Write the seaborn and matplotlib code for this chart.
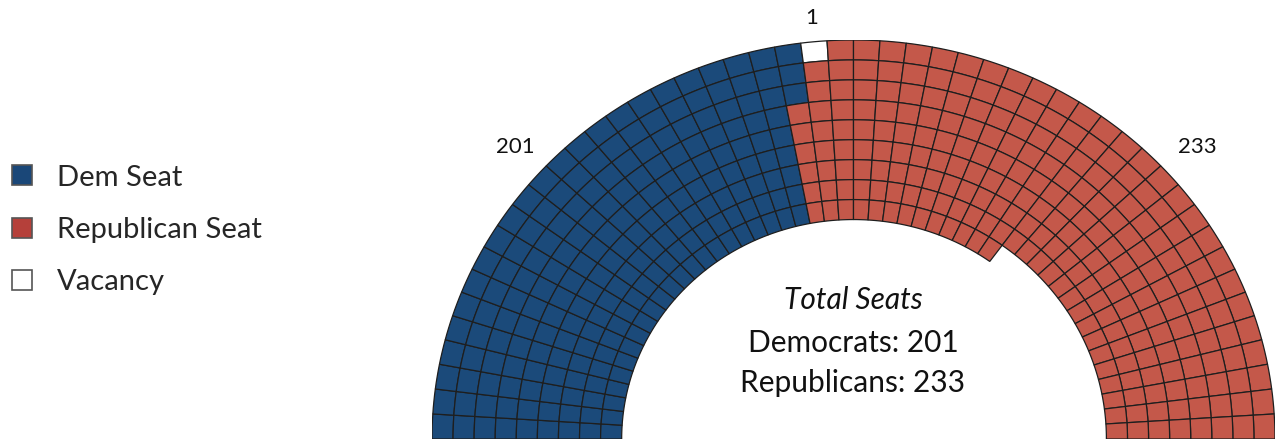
import numpy as np
import matplotlib
matplotlib.use("Agg")
import matplotlib.pyplot as plt
from matplotlib.patches import Wedge, Patch
import seaborn as sns

# Chamber composition
parties = ["Dem Seat", "Republican Seat", "Vacancy"]
seat_counts = [201, 233, 1]
party_colors = ["#1b4a7a", "#c4584a", "#ffffff"]
legend_colors = ["#1a4778", "#b5403a", "#ffffff"]

# Hemicycle layout: columns of equal angle; the right-hand block is one ring shallower
n_rings = 9
cols_deep = 35      # columns with all rings (from the left)
cols_shallow = 15   # columns without the innermost ring (at the right)

sns.set_theme(style="white")
plt.rcParams["font.family"] = ["Lato", "DejaVu Sans"]

W, H = 1278, 441
fig = plt.figure(figsize=(W / 100, H / 100), dpi=100)


def fx(x):
    return x / W


def fy(y):
    return 1 - y / H


ax = fig.add_axes([fx(432), fy(439), fx(1275) - fx(432), fy(40) - fy(439)])
ax.set_xlim(-1, 1)
ax.set_ylim(0, 1)
ax.axis("off")

r_in, r_out = 0.55, 1.0
edges = np.linspace(r_in, r_out, n_rings + 1)
n_cols = cols_deep + cols_shallow
step = 180 / n_cols

# Seats in fill order: left to right by column, outer ring first within a column
seats = []
for c in range(n_cols):
    rings = range(n_rings - 1, -1, -1) if c < cols_deep else range(n_rings - 1, 0, -1)
    for r in rings:
        seats.append((c, r))

n_dem, n_rep, n_vac = seat_counts
owner = {s: 1 for s in seats}
for s in seats[:n_dem]:
    owner[s] = 0
dem_cols = {c for c, _ in seats[:n_dem]}
first_free = max(dem_cols) + 1
for k in range(n_vac):
    owner[(first_free + k, n_rings - 1)] = 2

for (c, r), p in owner.items():
    t2 = 180 - c * step
    t1 = t2 - step
    ax.add_patch(Wedge((0, 0), edges[r + 1], t1, t2,
                       width=edges[r + 1] - edges[r],
                       facecolor=party_colors[p],
                       edgecolor="#1e1e1e", linewidth=0.9))

# Seat count labels
label_kw = dict(ha="center", va="center", fontsize=16, color="#111111")
fig.text(fx(812), fy(18), f"{n_vac}", **label_kw)
fig.text(fx(515), fy(147), f"{n_dem}", **label_kw)
fig.text(fx(1197), fy(147), f"{n_rep}", **label_kw)

# Totals in the centre
center_kw = dict(ha="center", va="center", fontsize=21.5, color="#111111")
fig.text(fx(853), fy(300), "Total Seats", style="italic", **center_kw)
fig.text(fx(853), fy(343), f"Democrats: {n_dem}", **center_kw)
fig.text(fx(853), fy(383), f"Republicans: {n_rep}", **center_kw)

# Legend
handles = [Patch(facecolor=c, edgecolor="#555555", linewidth=1.2) for c in legend_colors]
fig.legend(handles, parties, loc="upper left", bbox_to_anchor=(fx(0), fy(153)),
           frameon=False, fontsize=21, handlelength=0.68, handleheight=0.68,
           handletextpad=0.86, labelspacing=0.9, borderaxespad=0)

fig.savefig("out.png", dpi=100)
